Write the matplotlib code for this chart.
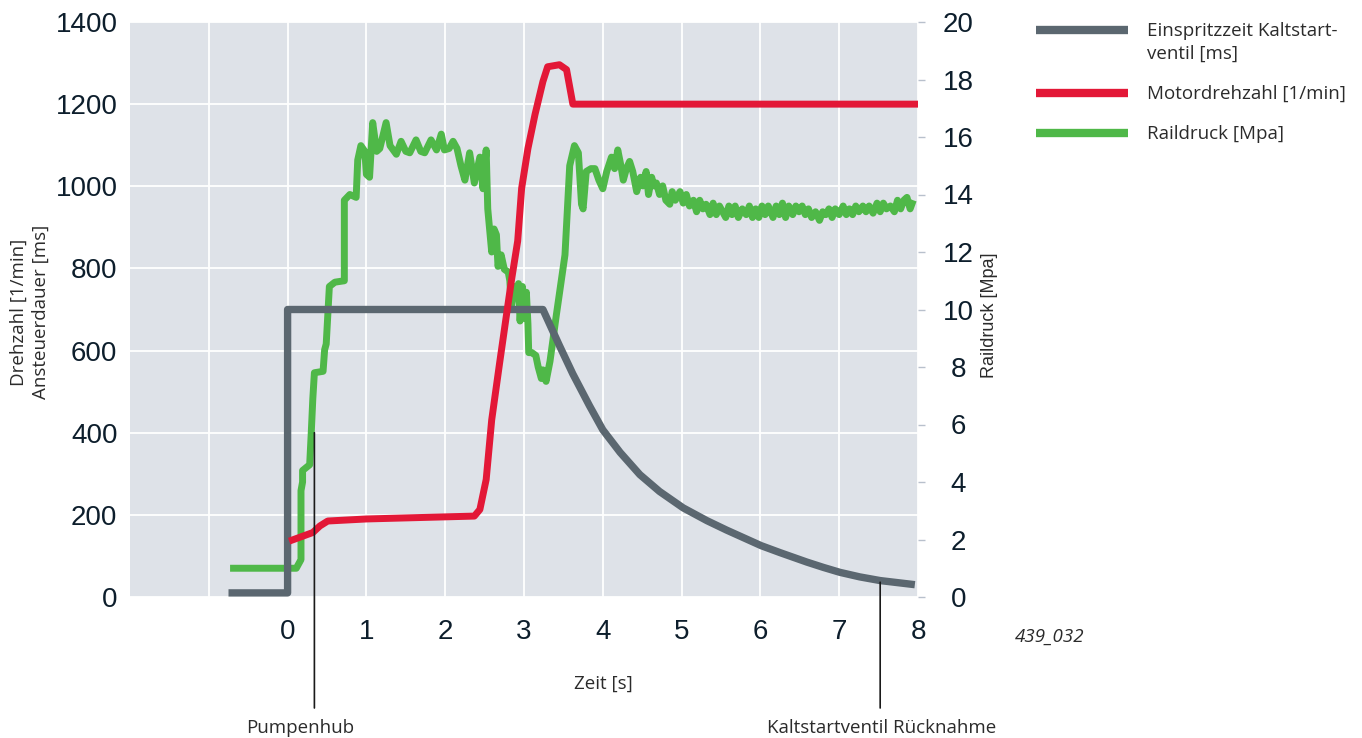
import matplotlib
matplotlib.use("Agg")
import matplotlib.pyplot as plt
from matplotlib.lines import Line2D

# ---------------- data ----------------
# Einspritzzeit Kaltstartventil [ms] (left axis)
t_inj = [-0.75, 0.0, 0.0, 3.24, 3.45, 3.62, 3.83, 4.0, 4.22, 4.47, 4.72, 5.02, 5.32, 5.57,
         6.01, 6.25, 6.59, 6.80, 7.01, 7.26, 7.52, 7.96]
v_inj = [10, 10, 700, 700, 612, 543, 466, 407, 352, 298, 257, 217, 186, 163,
         125, 108, 85, 72, 60, 49, 40, 30]

# Motordrehzahl [1/min] (left axis)
t_rpm = [0.02, 0.32, 0.41, 0.51, 1.0, 2.37, 2.44, 2.52, 2.59, 2.69, 2.78, 2.84, 2.92,
         2.97, 3.05, 3.14, 3.24, 3.30, 3.45, 3.54, 3.62, 8.0]
v_rpm = [136, 157, 173, 185, 190, 197, 213, 286, 431, 569, 690, 770, 867,
         995, 1092, 1175, 1255, 1291, 1296, 1284, 1200, 1200]

# Raildruck [Mpa] (right axis)
t_rail = [-0.73, 0.0, 0.11, 0.17, 0.17, 0.19, 0.19, 0.28, 0.30, 0.32, 0.34, 0.45, 0.47, 0.49,
          0.53, 0.60, 0.72, 0.72, 0.79, 0.87, 0.89, 0.93, 0.98, 1.00, 1.04, 1.08, 1.13, 1.17,
          1.25, 1.30, 1.38, 1.44, 1.50, 1.55, 1.63, 1.69, 1.74, 1.82, 1.89, 1.95, 1.99, 2.05,
          2.10, 2.15, 2.20, 2.25, 2.31, 2.37, 2.44, 2.48, 2.52, 2.54, 2.57, 2.59, 2.62, 2.65,
          2.67, 2.71, 2.75, 2.80, 2.82, 2.84, 2.88, 2.90, 2.93, 2.95, 2.98, 3.00, 3.03, 3.05,
          3.06, 3.10, 3.15, 3.18, 3.22, 3.24, 3.28, 3.33, 3.41, 3.52, 3.58, 3.64, 3.69, 3.73,
          3.75, 3.79, 3.85, 3.90, 3.95, 4.00, 4.05, 4.11, 4.15, 4.19, 4.23, 4.26, 4.30, 4.34,
          4.38, 4.43, 4.48, 4.51, 4.55, 4.58, 4.62, 4.65, 4.68, 4.72, 4.76, 4.80, 4.85, 4.88,
          4.92, 4.98, 5.02, 5.06, 5.10, 5.15, 5.19, 5.23, 5.27, 5.31, 5.36, 5.40, 5.44, 5.48,
          5.52, 5.56, 5.60, 5.64, 5.68, 5.72, 5.77, 5.82, 5.86, 5.90, 5.94, 5.98, 6.02, 6.06,
          6.10, 6.16, 6.20, 6.24, 6.28, 6.32, 6.36, 6.41, 6.45, 6.49, 6.53, 6.57, 6.61, 6.65,
          6.70, 6.75, 6.79, 6.83, 6.87, 6.91, 6.95, 7.00, 7.05, 7.09, 7.13, 7.17, 7.21, 7.25,
          7.30, 7.34, 7.38, 7.43, 7.48, 7.52, 7.56, 7.60, 7.65, 7.70, 7.74, 7.78, 7.82, 7.86,
          7.90, 7.94]
p_rail = [1.0, 1.0, 1.0, 1.3, 3.7, 4.0, 4.4, 4.6, 5.7, 6.9, 7.8, 7.85, 8.6, 8.8,
          10.8, 10.95, 11.0, 13.8, 14.0, 13.9, 15.2, 15.7, 15.5, 14.7, 14.6, 16.5, 15.5, 15.6,
          16.5, 15.7, 15.4, 15.85, 15.5, 15.45, 15.9, 15.5, 15.45, 15.9, 15.55, 16.1, 15.55, 15.6,
          15.85, 15.6, 15.0, 14.5, 15.45, 14.4, 15.3, 14.2, 15.55, 13.5, 12.6, 12.0, 12.8, 12.6,
          11.5, 11.9, 11.4, 11.3, 11.0, 10.1, 10.8, 10.5, 10.9, 9.6, 10.8, 9.7, 10.6, 9.5,
          8.5, 8.5, 8.4, 8.0, 7.6, 7.9, 7.5, 8.2, 9.8, 11.9, 15.0, 15.7, 15.45, 13.66,
          13.5, 14.8, 14.9, 14.9, 14.5, 14.2, 14.8, 15.3, 14.9, 15.55, 15.0, 14.5, 14.9, 15.15,
          14.8, 14.1, 14.6, 14.3, 14.8, 14.0, 14.6, 14.3, 14.4, 14.0, 14.3, 13.8, 13.66, 14.1,
          13.8, 14.1, 13.7, 14.0, 13.6, 13.8, 13.4, 13.8, 13.5, 13.66, 13.3, 13.7, 13.3, 13.6,
          13.4, 13.2, 13.6, 13.3, 13.6, 13.2, 13.5, 13.3, 13.6, 13.2, 13.5, 13.2, 13.6, 13.3,
          13.6, 13.2, 13.6, 13.3, 13.7, 13.2, 13.6, 13.3, 13.6, 13.4, 13.6, 13.3, 13.5, 13.2,
          13.4, 13.1, 13.4, 13.3, 13.5, 13.2, 13.5, 13.3, 13.6, 13.3, 13.5, 13.3, 13.6, 13.4,
          13.6, 13.4, 13.6, 13.35, 13.7, 13.4, 13.7, 13.5, 13.6, 13.4, 13.8, 13.5, 13.8, 13.9,
          13.5, 13.8]

x_ticks = [-1, 0, 1, 2, 3, 4, 5, 6, 7, 8]
x_ticklabels = ["", "0", "1", "2", "3", "4", "5", "6", "7", "8"]
left_ticks = [0, 200, 400, 600, 800, 1000, 1200, 1400]
right_ticks = [0, 2, 4, 6, 8, 10, 12, 14, 16, 18, 20]

series_names = ["Einspritzzeit Kaltstart-\nventil [ms]", "Motordrehzahl [1/min]", "Raildruck [Mpa]"]

# ---------------- style ----------------
C_GRAY = "#5b6770"
C_RED = "#e31837"
C_GREEN = "#4fb848"
C_BG = "#dee2e8"
C_TICK = "#0d1e2c"
C_TEXT = "#2b2b2b"
TXT_FONT = ["Open Sans", "DejaVu Sans"]
NUM_FONT = ["Liberation Sans", "DejaVu Sans"]
TXT_SIZE = 13.5

W, H = 1362, 738
fig = plt.figure(figsize=(W / 100, H / 100), dpi=100)

def fx(px):
    return px / W

def fy(py):
    return 1 - py / H

L, R, T, B = 130, 918, 22, 597
rect = [fx(L), fy(B), (R - L) / W, (B - T) / H]

# background axes: background, grid, x ticks, left ticks
ax_bg = fig.add_axes(rect)
ax_bg.set_facecolor(C_BG)
ax_bg.set_xlim(-2, 8)
ax_bg.set_ylim(0, 1400)
ax_bg.set_xticks(x_ticks)
ax_bg.set_xticklabels(x_ticklabels)
ax_bg.set_yticks(left_ticks)
ax_bg.grid(True, color="white", linewidth=1.3)
ax_bg.set_axisbelow(True)
for s in ax_bg.spines.values():
    s.set_visible(False)
ax_bg.tick_params(axis="x", length=0, pad=16, labelsize=20, labelcolor=C_TICK)
ax_bg.tick_params(axis="y", length=0, pad=9, labelsize=20, labelcolor=C_TICK)
for lab in ax_bg.get_xticklabels() + ax_bg.get_yticklabels():
    lab.set_family(NUM_FONT)

# right axes: rail pressure
ax_r = fig.add_axes(rect, sharex=ax_bg)
ax_r.patch.set_visible(False)
ax_r.set_ylim(0, 20)
ax_r.yaxis.tick_right()
ax_r.set_yticks(right_ticks)
ax_r.xaxis.set_visible(False)
for s in ax_r.spines.values():
    s.set_visible(False)
ax_r.tick_params(axis="y", length=5, width=1, color="#b8c0cc", pad=24, labelsize=20,
                 labelcolor=C_TICK)
for lab in ax_r.get_yticklabels():
    lab.set_family(NUM_FONT)
    lab.set_horizontalalignment("center")
ax_r.plot(t_rail, p_rail, color=C_GREEN, lw=5, solid_joinstyle="round", solid_capstyle="butt")

# top axes: injection time and engine speed
ax_l = fig.add_axes(rect, sharex=ax_bg, sharey=ax_bg)
ax_l.patch.set_visible(False)
ax_l.axis("off")
ax_l.plot(t_inj, v_inj, color=C_GRAY, lw=5.3, solid_joinstyle="round", solid_capstyle="butt")
ax_l.plot(t_rpm, v_rpm, color=C_RED, lw=5, solid_joinstyle="round", solid_capstyle="butt")

# annotation lines
bottom_frac = (fy(708) - rect[1]) / rect[3]
for xv, yv in [(0.34, 400), (7.52, 36)]:
    ax_l.annotate("", xy=(xv, yv), xycoords="data",
                  xytext=(xv, bottom_frac), textcoords=("data", "axes fraction"),
                  arrowprops=dict(arrowstyle="-", color="#1a1a1a", lw=1.2,
                                  shrinkA=0, shrinkB=0))

# texts
fig.text(fx(300), fy(728), "Pumpenhub", ha="center", va="center", fontsize=TXT_SIZE,
         color=C_TEXT, family=TXT_FONT)
fig.text(fx(882), fy(728), "Kaltstartventil Rücknahme", ha="center", va="center",
         fontsize=TXT_SIZE, color=C_TEXT, family=TXT_FONT)
fig.text(fx(603), fy(684), "Zeit [s]", ha="center", va="center", fontsize=TXT_SIZE,
         color=C_TEXT, family=TXT_FONT)
fig.text(fx(1050), fy(637), "439_032", ha="center", va="center", fontsize=TXT_SIZE,
         color=C_TEXT, family=TXT_FONT, style="italic")
fig.text(fx(30), fy(312), "Drehzahl [1/min]\nAnsteuerdauer [ms]", ha="center", va="center",
         rotation=90, fontsize=TXT_SIZE, color=C_TEXT, family=TXT_FONT,
         multialignment="center", linespacing=1.3)
fig.text(fx(990), fy(315), "Raildruck [Mpa]", ha="center", va="center", rotation=90,
         fontsize=13, color=C_TEXT, family=NUM_FONT)

# legend (manual)
leg_colors = [C_GRAY, C_RED, C_GREEN]
leg_y = [30, 93, 133]
for name, col, yy in zip(series_names, leg_colors, leg_y):
    fig.add_artist(Line2D([fx(1036), fx(1128)], [fy(yy), fy(yy)], color=col, lw=6,
                          solid_capstyle="butt", transform=fig.transFigure))
    fig.text(fx(1147), fy(yy - 8), name, ha="left", va="top", fontsize=TXT_SIZE,
             color=C_TEXT, family=TXT_FONT, linespacing=1.33)

fig.savefig("out.png", dpi=100, facecolor="white")
